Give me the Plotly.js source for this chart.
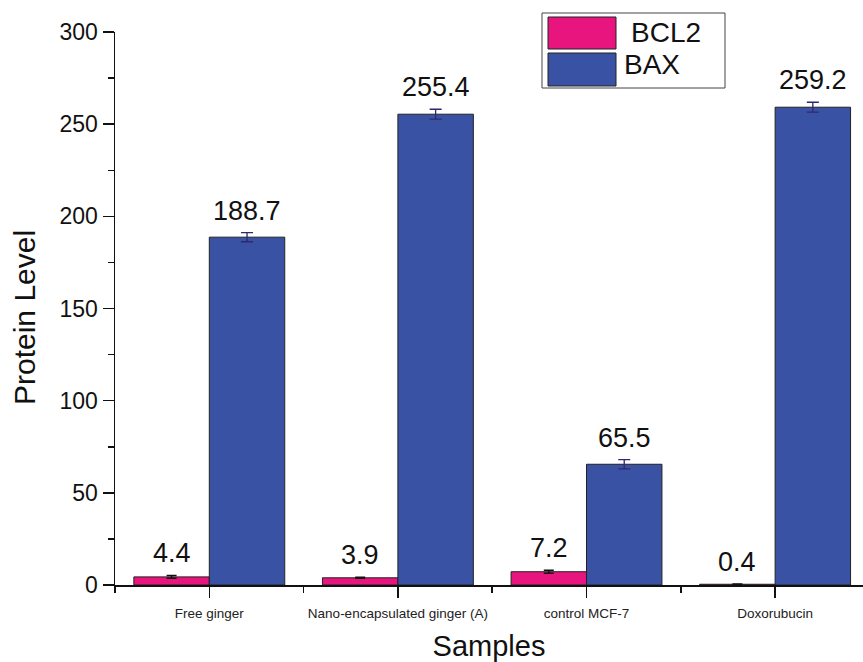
<!DOCTYPE html>
<html>
<head>
<meta charset="utf-8">
<script src="https://cdn.plot.ly/plotly-3.0.1.min.js"></script>
<style>html,body{margin:0;padding:0;background:#fff;}#chart{width:863px;height:662px;}</style>
</head>
<body>
<div id="chart"></div>
<script>
const categories = ["Free ginger", "Nano-encapsulated ginger (A)", "control MCF-7", "Doxorubucin"];
const bcl2Values = [4.4, 3.9, 7.2, 0.4];
const bcl2Errors = [0.8, 0.3, 0.8, 0.1];
const baxValues = [188.7, 255.4, 65.5, 259.2];
const baxErrors = [2.5, 2.7, 2.5, 2.7];
const seriesNames = ["BCL2", "BAX"];
const yTicks = [0, 50, 100, 150, 200, 250, 300];

const xPos = categories.map((c, i) => i);
const pink = "#E8157F";
const blue = "#3A52A3";
const font = "Liberation Sans, Arial, sans-serif";

const traces = [
  {
    type: "bar", name: seriesNames[0], x: xPos, y: bcl2Values,
    marker: {color: pink, line: {color: "#222", width: 1}},
    error_y: {type: "data", array: bcl2Errors, visible: true, color: "#111", thickness: 1.5, width: 5}
  },
  {
    type: "bar", name: seriesNames[1], x: xPos, y: baxValues,
    marker: {color: blue, line: {color: "#222", width: 1}},
    error_y: {type: "data", array: baxErrors, visible: true, color: "#2E2870", thickness: 1.3, width: 6}
  }
];

const annotations = [];
bcl2Values.forEach((v, i) => annotations.push({
  x: i - 0.2, y: v + bcl2Errors[i], xref: "x", yref: "y", text: v.toFixed(1),
  showarrow: false, yanchor: "bottom", yshift: 5, font: {family: font, size: 27, color: "#111"}
}));
baxValues.forEach((v, i) => annotations.push({
  x: i + 0.2, y: v + baxErrors[i], xref: "x", yref: "y", text: v.toFixed(1),
  showarrow: false, yanchor: "bottom", yshift: 5, font: {family: font, size: 27, color: "#111"}
}));

// custom legend (paper coordinates)
const W = 863 - 115, H = 585 - 32;
const px = x => (x - 115) / W;
const py = y => (585 - y) / H;
const shapes = [
  {type: "rect", xref: "paper", yref: "paper", x0: px(542), x1: px(725), y0: py(88), y1: py(13), line: {color: "#444", width: 1}, fillcolor: "#fff"},
  {type: "rect", xref: "paper", yref: "paper", x0: px(548), x1: px(616), y0: py(49), y1: py(17), line: {color: "#222", width: 1}, fillcolor: pink},
  {type: "rect", xref: "paper", yref: "paper", x0: px(548), x1: px(616), y0: py(86), y1: py(53), line: {color: "#222", width: 1}, fillcolor: blue}
];
annotations.push({xref: "paper", yref: "paper", x: px(629), y: py(32), xanchor: "left", yanchor: "middle", text: seriesNames[0], showarrow: false, font: {family: font, size: 28, color: "#111"}});
annotations.push({xref: "paper", yref: "paper", x: px(622), y: py(64), xanchor: "left", yanchor: "middle", text: seriesNames[1], showarrow: false, font: {family: font, size: 28, color: "#111"}});
// y axis title
annotations.push({xref: "paper", yref: "paper", x: px(24), y: py(318), xanchor: "center", yanchor: "middle", textangle: -90, text: "Protein Level", showarrow: false, font: {family: font, size: 30, color: "#111"}});

const layout = {
  width: 863, height: 662,
  margin: {l: 115, r: 0, t: 32, b: 77},
  paper_bgcolor: "#fff", plot_bgcolor: "#fff",
  showlegend: false,
  barmode: "group", bargap: 0.2, bargroupgap: 0,
  font: {family: font, color: "#111"},
  xaxis: {
    range: [-0.5, 3.466], tickmode: "array", tickvals: xPos, ticktext: categories,
    showgrid: false, zeroline: false, showline: true, linecolor: "#111", linewidth: 1.5,
    ticks: "outside", ticklen: 11, tickwidth: 1.5, tickcolor: "#111",
    tickfont: {family: font, size: 13.5, color: "#222"}, ticklabelstandoff: 4,
    minor: {tickmode: "array", tickvals: [-0.5, 0.5, 1.5, 2.5, 3.5], ticks: "outside", ticklen: 6, tickwidth: 1.5, tickcolor: "#111", showgrid: false},
    title: {text: "Samples", font: {family: font, size: 29, color: "#111"}, standoff: 20},
    fixedrange: true
  },
  yaxis: {
    range: [0, 300], tickmode: "array", tickvals: yTicks,
    showgrid: false, zeroline: false, showline: true, linecolor: "#111", linewidth: 1.5,
    ticks: "outside", ticklen: 11, tickwidth: 1.5, tickcolor: "#111",
    tickfont: {family: font, size: 23, color: "#111"},
    minor: {dtick: 25, ticks: "outside", ticklen: 6, tickwidth: 1.5, tickcolor: "#111", showgrid: false},
    fixedrange: true
  },
  annotations: annotations,
  shapes: shapes
};

Plotly.newPlot("chart", traces, layout, {displayModeBar: false, staticPlot: true});
</script>
</body>
</html>
